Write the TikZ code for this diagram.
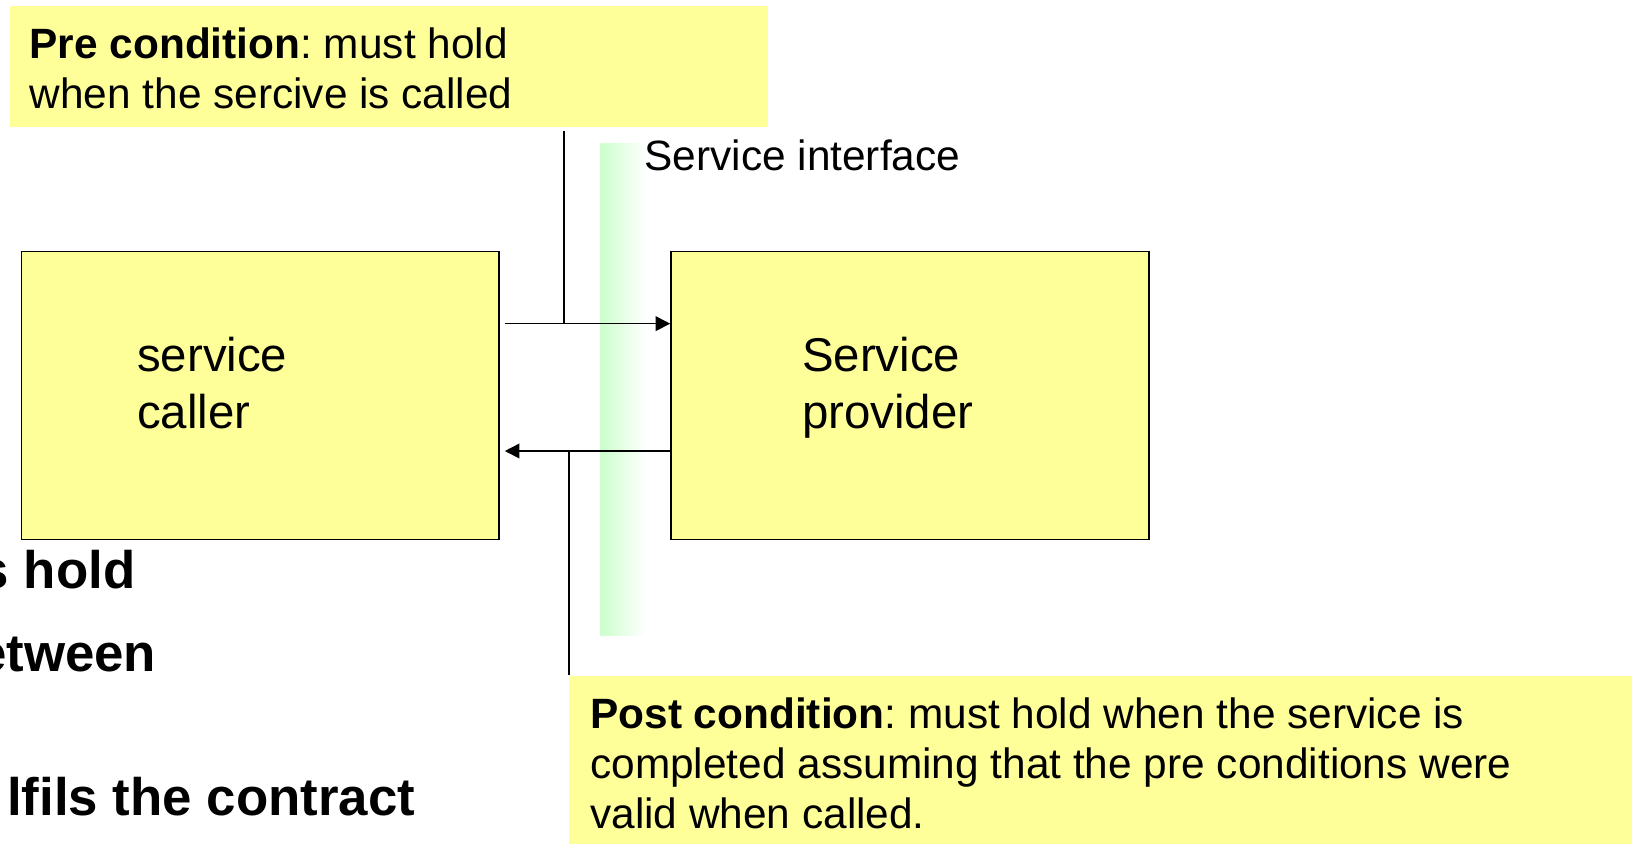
\documentclass[tikz,border=0pt]{standalone}
\usepackage{fontspec}
\setmainfont{Liberation Sans}
\usetikzlibrary{arrows.meta}
\definecolor{note}{RGB}{255,255,153}
\definecolor{band}{RGB}{204,255,204}
\frenchspacing

\begin{document}
\begin{tikzpicture}[x=0.5pt,y=-0.5pt,
  box/.style={draw=black, line width=0.75pt, fill=note, inner sep=0pt, anchor=north west},
  notebox/.style={fill=note, inner sep=0pt, anchor=north west},
  txt/.style={inner sep=0pt, anchor=base west, font=\fontsize{20.3}{24}\selectfont},
  big/.style={inner sep=0pt, anchor=base west, font=\fontsize{22.7}{27}\selectfont},
  slide/.style={inner sep=0pt, anchor=base east, font=\fontsize{25.3}{30}\selectfont\bfseries},
  link/.style={line width=0.8pt},
  flow/.style={link, -{Triangle[length=7pt,width=7pt]}}
]
\useasboundingbox (0,0) rectangle (1568,808);

% slide body text running off the left edge
\node[slide] (hold) at (130,564) {s hold};
\node[slide] (betw) at (150,643) {etween};
\node[slide] (fulfil) at (398,781) {lfils the contract};

% pre condition note
\node[notebox, minimum width=363pt, minimum height=58pt] (pre) at (9,5) {};
\node[txt] (preA) at (28,56) {\textbf{Pre condition}: must hold};
\node[txt] (preB) at (28,104) {when the sercive is called};

% interface band
\node[inner sep=0pt, anchor=north west, minimum width=21.5pt, minimum height=235.5pt,
      left color=band, right color=white] (iface) at (575,137) {};
\node[txt] (ifacelbl) at (617,163) {Service interface};

% the two parties
\node[box, minimum width=228.5pt, minimum height=138pt] (caller) at (20,240) {};
\node[big] (callerA) at (131,356) {service};
\node[big] (callerB) at (131,410) {caller};

\node[box, minimum width=229pt, minimum height=138pt] (provider) at (642,240) {};
\node[big] (providerA) at (768,356) {Service};
\node[big] (providerB) at (768,410) {provider};

% call and return
\coordinate (preTap) at (540,310);
\coordinate (postTap) at (545,432);
\draw[flow] ([xshift=2.5pt]caller.east |- preTap) -- (provider.west |- preTap);
\draw[flow] (provider.west |- postTap) -- ([xshift=2.5pt]caller.east |- postTap);

% post condition note
\node[notebox, minimum width=509pt, minimum height=82pt] (post) at (545,647) {};
\node[txt] (postA) at (565,698) {\textbf{Post condition}: must hold when the service is};
\node[txt] (postB) at (565,746) {completed assuming that the pre conditions were};
\node[txt] (postC) at (565,794) {valid when called.};

% notes attached to the messages
\draw[link] ([yshift=-2pt]pre.south -| preTap) -- (preTap);
\draw[link] (postTap) -- (postTap |- post.north);
\end{tikzpicture}
\end{document}
